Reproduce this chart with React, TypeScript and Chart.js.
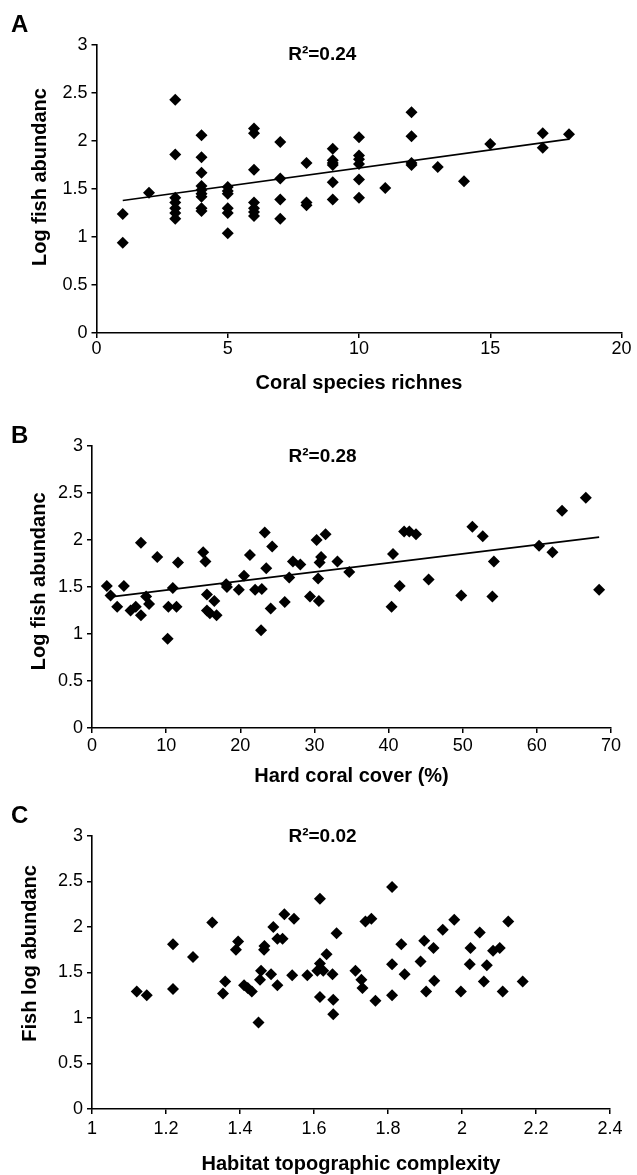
import React, { useEffect, useRef } from "react";
import { Chart, registerables } from "chart.js";

Chart.register(...registerables);

const FONT = "'Liberation Sans', Arial, Helvetica, sans-serif";

// ---------- Panel A: coral species richness ----------
const A_X = [
  1, 1, 2, 3, 3, 3, 3, 3, 3, 3,
  4, 4, 4, 4, 4, 4, 4, 4, 4,
  5, 5, 5, 5, 5, 5,
  6, 6, 6, 6, 6, 6, 6,
  7, 7, 7, 7,
  8, 8, 8,
  9, 9, 9, 9, 9, 9,
  10, 10, 10, 10, 10, 10,
  11, 12, 12, 12, 12, 13, 14, 15, 17, 17, 18,
];
const A_Y = [
  1.24, 0.94, 1.46, 2.43, 1.86, 1.41, 1.36, 1.3, 1.25, 1.19,
  2.06, 1.83, 1.67, 1.53, 1.49, 1.45, 1.42, 1.3, 1.27,
  1.52, 1.48, 1.45, 1.3, 1.25, 1.04,
  2.13, 2.08, 1.7, 1.36, 1.3, 1.26, 1.22,
  1.99, 1.61, 1.39, 1.19,
  1.77, 1.36, 1.33,
  1.92, 1.8, 1.77, 1.75, 1.57, 1.39,
  2.04, 1.85, 1.81, 1.76, 1.6, 1.41,
  1.51, 2.3, 2.05, 1.77, 1.75, 1.73, 1.58, 1.97, 2.08, 1.93, 2.07,
];
const A_TREND_X = [1, 18];
const A_TREND_Y = [1.38, 2.02];
const A_X_TICKS = [0, 5, 10, 15, 20];
const A_X_LABELS = ["0", "5", "10", "15", "20"];

// ---------- Panel B: hard coral cover ----------
const B_X = [
  2.0, 2.5, 3.4, 4.3, 5.2, 5.9, 6.6, 6.6, 7.3, 7.7,
  8.8, 10.2, 10.3, 10.9, 11.4, 11.6, 15.0, 15.3, 15.5, 15.5,
  15.9, 16.5, 16.8, 18.1, 18.2, 19.8, 20.5, 21.3, 22.0, 22.9,
  22.8, 23.3, 23.5, 24.3, 24.1, 26.0, 26.6, 27.1, 28.1, 29.4,
  30.3, 30.5, 30.6, 30.7, 30.9, 31.5, 33.1, 34.7, 40.4, 40.6,
  41.5, 42.1, 42.8, 43.7, 45.4, 49.8, 51.3, 52.7, 54.0, 54.2,
  60.3, 62.1, 63.4, 66.6, 68.4,
];
const B_Y = [
  1.51, 1.41, 1.29, 1.51, 1.25, 1.29, 1.97, 1.2, 1.4, 1.32,
  1.82, 0.95, 1.29, 1.49, 1.29, 1.76, 1.87, 1.77, 1.42, 1.25,
  1.22, 1.35, 1.2, 1.53, 1.5, 1.47, 1.62, 1.84, 1.47, 1.48,
  1.04, 2.08, 1.7, 1.93, 1.27, 1.34, 1.6, 1.77, 1.74, 1.4,
  2.0, 1.59, 1.35, 1.76, 1.82, 2.06, 1.77, 1.66, 1.29, 1.85,
  1.51, 2.09, 2.09, 2.06, 1.58, 1.41, 2.14, 2.04, 1.4, 1.77,
  1.94, 1.87, 2.31, 2.45, 1.47,
];
const B_TREND_X = [2, 68.4];
const B_TREND_Y = [1.39, 2.03];
const B_X_TICKS = [0, 10, 20, 30, 40, 50, 60, 70];
const B_X_LABELS = ["0", "10", "20", "30", "40", "50", "60", "70"];

// ---------- Panel C: habitat topographic complexity ----------
const C_X = [
  1.121, 1.148, 1.219, 1.219, 1.273, 1.325, 1.354, 1.36, 1.389, 1.395,
  1.411, 1.421, 1.432, 1.45, 1.454, 1.457, 1.465, 1.466, 1.484, 1.49,
  1.501, 1.501, 1.515, 1.52, 1.541, 1.546, 1.582, 1.609, 1.616, 1.616,
  1.616, 1.625, 1.634, 1.65, 1.652, 1.652, 1.661, 1.712, 1.728, 1.731,
  1.739, 1.755, 1.766, 1.811, 1.811, 1.811, 1.836, 1.845, 1.888, 1.898,
  1.903, 1.923, 1.925, 1.948, 1.979, 1.997, 2.021, 2.023, 2.048, 2.059,
  2.067, 2.084, 2.102, 2.11, 2.125, 2.164,
];
const C_Y = [
  1.29, 1.25, 1.81, 1.32, 1.67, 2.05, 1.27, 1.4, 1.75, 1.84,
  1.36, 1.33, 1.29, 0.95, 1.42, 1.52, 1.75, 1.79, 1.48, 2.0,
  1.36, 1.87, 1.87, 2.14, 1.47, 2.09, 1.47, 1.52, 1.6, 2.31,
  1.23, 1.52, 1.7, 1.48, 1.2, 1.04, 1.93, 1.52, 1.42, 1.33,
  2.06, 2.09, 1.19, 2.44, 1.59, 1.25, 1.81, 1.48, 1.62, 1.85,
  1.29, 1.77, 1.41, 1.97, 2.08, 1.29, 1.59, 1.77, 1.94, 1.4,
  1.58, 1.74, 1.77, 1.29, 2.06, 1.4,
];
const C_X_TICKS = [1, 1.2, 1.4, 1.6, 1.8, 2, 2.2, 2.4];
const C_X_LABELS = ["1", "1.2", "1.4", "1.6", "1.8", "2", "2.2", "2.4"];

// ---------- shared ----------
const Y_TICKS = [0, 0.5, 1, 1.5, 2, 2.5, 3];
const Y_LABELS = ["0", "0.5", "1", "1.5", "2", "2.5", "3"];

const textPlugin = {
  id: "panelText",
  afterDatasetsDraw(chart: any, _args: any, opts: any) {
    if (!opts) return;
    const { ctx } = chart;
    const xs = chart.scales.x;
    const ys = chart.scales.y;
    ctx.save();
    ctx.fillStyle = "#000";
    ctx.textAlign = "center";
    ctx.textBaseline = "middle";
    if (opts.r2) {
      ctx.font = `bold 19px ${FONT}`;
      ctx.fillText(opts.r2, xs.getPixelForValue(opts.r2x), ys.getPixelForValue(opts.r2y));
    }
    if (opts.yTitle) {
      ctx.font = `bold 20px ${FONT}`;
      ctx.translate(opts.yTitleX, ys.getPixelForValue(opts.yTitleAt));
      ctx.rotate(-Math.PI / 2);
      ctx.fillText(opts.yTitle, 0, 0);
    }
    ctx.restore();
  },
};

type PanelProps = {
  top: number;
  height: number;
  plotTop: number;
  plotBottom: number;
  plotLeft: number;
  plotRight: number;
  xs: number[];
  ys: number[];
  trendX?: number[];
  trendY?: number[];
  xMin: number;
  xMax: number;
  xTicks: number[];
  xLabels: string[];
  xTitle: string;
  yTitle: string;
  yTitleX: number;
  yTitleAt: number;
  xTitlePad: number;
  xTickPad: number;
  r2: string;
  r2x: number;
  r2y: number;
};

function Panel(p: PanelProps) {
  const ref = useRef<HTMLCanvasElement | null>(null);
  useEffect(() => {
    if (!ref.current) return;
    const W = 637;
    const datasets: any[] = [
      {
        type: "scatter",
        data: p.xs.map((x, i) => ({ x, y: p.ys[i] })),
        pointStyle: "rectRot",
        pointRadius: 6,
        pointHoverRadius: 6,
        backgroundColor: "#000",
        borderColor: "#000",
        borderWidth: 0,
        order: 2,
      },
    ];
    if (p.trendX && p.trendY) {
      datasets.push({
        type: "line",
        data: p.trendX.map((x, i) => ({ x, y: p.trendY![i] })),
        borderColor: "#000",
        borderWidth: 1.7,
        pointRadius: 0,
        fill: false,
        tension: 0,
        order: 1,
      });
    }
    const chart = new Chart(ref.current, {
      type: "scatter",
      data: { datasets },
      plugins: [textPlugin],
      options: {
        responsive: false,
        animation: false,
        devicePixelRatio: 1,
        events: [],
        layout: {
          autoPadding: false,
          padding: {
            top: p.plotTop - p.top,
            right: W - p.plotRight,
            left: 0,
            bottom: 0,
          },
        },
        plugins: {
          legend: { display: false },
          tooltip: { enabled: false },
          title: { display: false },
          panelText: {
            r2: p.r2,
            r2x: p.r2x,
            r2y: p.r2y,
            yTitle: p.yTitle,
            yTitleX: p.yTitleX,
            yTitleAt: p.yTitleAt,
          },
        } as any,
        scales: {
          x: {
            type: "linear",
            position: "bottom",
            min: p.xMin,
            max: p.xMax,
            afterBuildTicks: (axis: any) => {
              axis.ticks = p.xTicks.map((v) => ({ value: v }));
            },
            afterFit: (axis: any) => {
              axis.height = p.top + p.height - p.plotBottom;
            },
            grid: {
              drawOnChartArea: false,
              drawTicks: true,
              tickLength: 5,
              color: "#000",
              lineWidth: 1.5,
            },
            border: { display: true, color: "#000", width: 1.6 },
            ticks: {
              color: "#000",
              font: { family: FONT, size: 18 },
              padding: p.xTickPad,
              maxRotation: 0,
              autoSkip: false,
              callback: (v: any) => {
                const i = p.xTicks.findIndex((t) => Math.abs(t - Number(v)) < 1e-9);
                return i >= 0 ? p.xLabels[i] : "";
              },
            },
            title: {
              display: true,
              text: p.xTitle,
              color: "#000",
              font: { family: FONT, size: 20, weight: "bold", lineHeight: 1 },
              padding: { top: 0, bottom: p.xTitlePad },
            },
          },
          y: {
            type: "linear",
            position: "left",
            min: 0,
            max: 3,
            afterBuildTicks: (axis: any) => {
              axis.ticks = Y_TICKS.map((v) => ({ value: v }));
            },
            afterFit: (axis: any) => {
              axis.width = p.plotLeft;
            },
            grid: {
              drawOnChartArea: false,
              drawTicks: true,
              tickLength: 5,
              color: "#000",
              lineWidth: 1.5,
            },
            border: { display: true, color: "#000", width: 1.6 },
            ticks: {
              color: "#000",
              font: { family: FONT, size: 18 },
              padding: 4,
              autoSkip: false,
              callback: (v: any) => {
                const i = Y_TICKS.findIndex((t) => Math.abs(t - Number(v)) < 1e-9);
                return i >= 0 ? Y_LABELS[i] : "";
              },
            },
            title: { display: false },
          },
        },
      } as any,
    });
    return () => chart.destroy();
  }, []);
  return (
    <div style={{ position: "absolute", left: 0, top: p.top, width: 637, height: p.height }}>
      <canvas ref={ref} width={637} height={p.height} style={{ display: "block", width: 637, height: p.height }} />
    </div>
  );
}

const letterStyle = (top: number): React.CSSProperties => ({
  position: "absolute",
  left: 11,
  top,
  fontFamily: FONT,
  fontWeight: "bold",
  fontSize: 24,
  lineHeight: "24px",
  color: "#000",
});

export default function App() {
  return (
    <div style={{ position: "absolute", left: 0, top: 0, width: 637, height: 1175, background: "#fff", overflow: "hidden" }}>
      <Panel
        top={0}
        height={400}
        plotTop={45}
        plotBottom={333}
        plotLeft={96.5}
        plotRight={621.5}
        xs={A_X}
        ys={A_Y}
        trendX={A_TREND_X}
        trendY={A_TREND_Y}
        xMin={0}
        xMax={20}
        xTicks={A_X_TICKS}
        xLabels={A_X_LABELS}
        xTitle="Coral species richnes"
        yTitle="Log fish abundanc"
        yTitleX={40}
        yTitleAt={1.625}
        xTitlePad={7}
        xTickPad={0}
        r2="R²=0.24"
        r2x={8.6}
        r2y={2.9}
      />
      <Panel
        top={400}
        height={395}
        plotTop={446}
        plotBottom={728}
        plotLeft={92}
        plotRight={611}
        xs={B_X}
        ys={B_Y}
        trendX={B_TREND_X}
        trendY={B_TREND_Y}
        xMin={0}
        xMax={70}
        xTicks={B_X_TICKS}
        xLabels={B_X_LABELS}
        xTitle="Hard coral cover (%)"
        yTitle="Log fish abundanc"
        yTitleX={39}
        yTitleAt={1.56}
        xTitlePad={9}
        xTickPad={2}
        r2="R²=0.28"
        r2x={31.1}
        r2y={2.89}
      />
      <Panel
        top={795}
        height={380}
        plotTop={836}
        plotBottom={1109}
        plotLeft={92}
        plotRight={610}
        xs={C_X}
        ys={C_Y}
        xMin={1}
        xMax={2.4}
        xTicks={C_X_TICKS}
        xLabels={C_X_LABELS}
        xTitle="Habitat topographic complexity"
        yTitle="Fish log abundanc"
        yTitleX={30}
        yTitleAt={1.71}
        xTitlePad={1}
        xTickPad={4}
        r2="R²=0.02"
        r2x={1.623}
        r2y={2.99}
      />
      <div style={letterStyle(12)}>A</div>
      <div style={letterStyle(423)}>B</div>
      <div style={letterStyle(803)}>C</div>
    </div>
  );
}
